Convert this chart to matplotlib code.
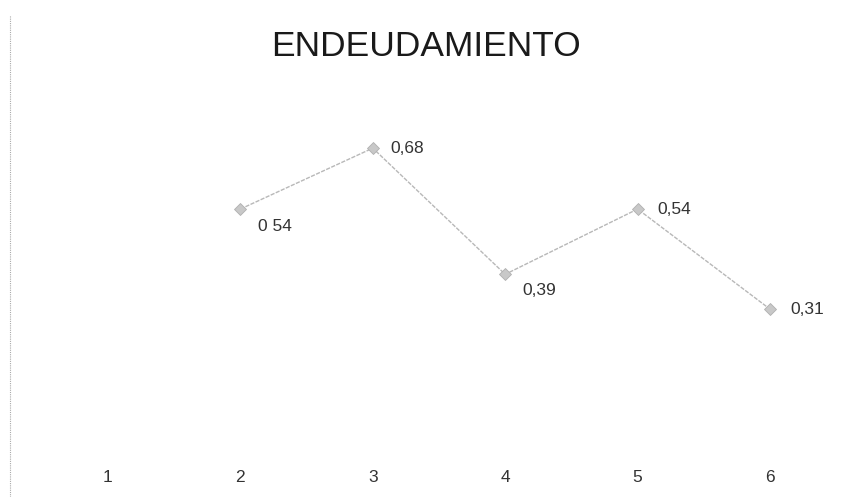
import matplotlib
matplotlib.use("Agg")
import matplotlib.pyplot as plt
from matplotlib.lines import Line2D

categories = ["1", "2", "3", "4", "5", "6"]
x_points = [2, 3, 4, 5, 6]
values = [0.54, 0.68, 0.39, 0.54, 0.31]
value_labels = ["0 54", "0,68", "0,39", "0,54", "0,31"]
label_offsets = [(18, -17), (18, 0), (17, -16), (20, 0), (20, 0)]  # pixels

plt.rcParams['font.family'] = ['Liberation Sans', 'DejaVu Sans']

fig = plt.figure(figsize=(8.51, 4.97), dpi=100)
ax = fig.add_axes([41.8 / 851, 0.1066, 794.4 / 851, 0.7004])

ax.plot(x_points, values, color="#b8b8b8", linewidth=1.0, linestyle=(0, (3, 1)),
        marker="D", markersize=6, markerfacecolor="#c8c8c8",
        markeredgecolor="#b0b0b0", markeredgewidth=0.6)

for xv, yv, lab, (dx, dy) in zip(x_points, values, value_labels, label_offsets):
    ax.annotate(lab, (xv, yv), xytext=(dx * 0.72, dy * 0.72), textcoords="offset points",
                ha="left", va="center", fontsize=12.5, color="#333333")

ax.set_xlim(0.5, 6.5)
ax.set_ylim(0, 0.8)
ax.set_xticks(range(1, 7))
ax.set_xticklabels(categories, fontsize=12.5, color="#333333")
ax.set_yticks([])
ax.tick_params(axis="x", length=0, pad=18.5)
for s in ax.spines.values():
    s.set_visible(False)

fig.text(0.5, 0.906, "ENDEUDAMIENTO", ha="center", va="center",
         fontsize=25.5, color="#1a1a1a")

# faint left page edge from the scan
fig.add_artist(Line2D([10 / 851, 10 / 851], [0.0, 0.97], transform=fig.transFigure,
                      color="#aaaaaa", linewidth=0.8, linestyle=(0, (1, 1))))

fig.savefig("out.png", dpi=100)
